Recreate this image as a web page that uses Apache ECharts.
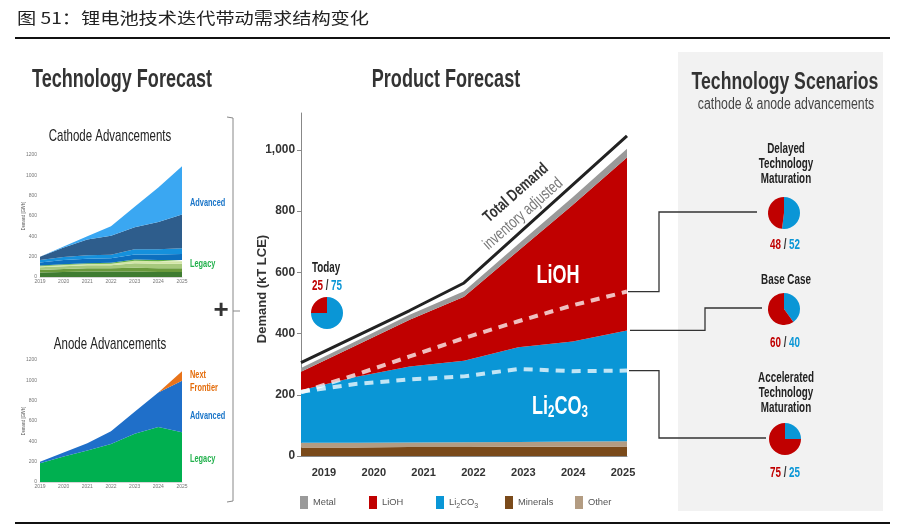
<!DOCTYPE html>
<html><head><meta charset="utf-8">
<script src="https://cdn.jsdelivr.net/npm/echarts@6/dist/echarts.min.js"></script>
<style>html,body{margin:0;padding:0;background:#fff}#c{width:897px;height:528px}</style>
</head><body><div id="c"></div>
<script>
// ---------------- DATA ----------------
const years = ['2019', '2020', '2021', '2022', '2023', '2024', '2025'];
const yearValues = [2019, 2020, 2021, 2022, 2023, 2024, 2025];
// Product forecast (kT LCE), stacked bottom -> top
const minerals = [28, 28, 29, 29, 30, 30, 31];
const other = [15, 15, 15, 16, 16, 17, 17];
const li2co3 = [172, 215, 248, 266, 309, 327, 362];
const lioh = [60, 102, 153, 209, 315, 446, 565];
const metal = [12, 14, 16, 18, 22, 25, 28];
const totalDemand = [305, 390, 475, 565, 725, 885, 1045];
const delayedSplit = [208, 265, 325, 385, 440, 492, 537];
const acceleratedSplit = [210, 235, 250, 260, 284, 277, 279];
const mainYTicks = [0, 200, 400, 600, 800, 1000];

// Cathode advancements (GWh), stacked bottom -> top
const cathodeL1 = [45, 50, 55, 55, 55, 50, 50];
const cathodeL2 = [25, 28, 30, 30, 35, 35, 35];
const cathodeL3 = [25, 28, 30, 30, 45, 45, 45];
const cathodeL4 = [10, 12, 12, 15, 25, 25, 25];
const cathodeL5 = [8, 8, 8, 10, 12, 12, 12];
const cathodeA1 = [30, 40, 45, 45, 50, 55, 60];
const cathodeA2 = [25, 30, 35, 35, 50, 50, 55];
const cathodeA3 = [32, 94, 155, 185, 218, 268, 333];
const cathodeA4 = [0, 10, 30, 95, 200, 340, 475];
// Anode advancements (GWh)
const anodeLegacy = [185, 250, 310, 375, 475, 540, 490];
const anodeAdvanced = [15, 40, 70, 125, 215, 340, 505];
const anodeNext = [0, 0, 0, 0, 0, 0, 95];

// Pies: LiOH / Li2CO3 split
const todayLiOH = 25, todayLi2CO3 = 75;
const scenarioNames = ['Delayed\nTechnology\nMaturation', 'Base Case', 'Accelerated\nTechnology\nMaturation'];
const scenarioLiOH = [48, 60, 75];
const scenarioLi2CO3 = [52, 40, 25];

// ---------------- STYLE ----------------
const RED = '#c00000', BLUE = '#0a96d6', GRAY = '#9a9a9a', BROWN = '#7a4a1a', TAN = '#b39c82';
const ctx = document.createElement('canvas').getContext('2d');
function measure(f) { ctx.font = 'bold 20px ' + f; return ctx.measureText('Technology Forecast 2019').width; }
const HAS_NARROW = Math.abs(measure('"Liberation Sans Narrow", monospace') - measure('monospace')) > 0.5;
const FN = HAS_NARROW ? '"Liberation Sans Narrow", "Liberation Sans", Arial, sans-serif' : '"Liberation Sans", Arial, sans-serif';
const SX = HAS_NARROW ? 1 : 0.82;
const AX = HAS_NARROW ? 1 : 0.85;

function txt(text, x, y, o = {}) {
  return {
    type: 'text', x, y, z: 20, silent: true,
    rotation: o.rot || 0,
    scaleX: o.sxAbs != null ? o.sxAbs : (o.sx || 1) * SX,
    scaleY: o.sy != null ? o.sy : 1.15,
    style: {
      text, fill: o.color || '#222', fontSize: o.size || 12,
      fontWeight: o.bold ? 'bold' : 'normal', fontFamily: o.fam || FN,
      align: o.align || 'center', verticalAlign: 'middle',
      lineHeight: o.lh, rich: o.rich
    }
  };
}
function tok(color, size, bold, extra) {
  return Object.assign({ fill: color, color: color, fontSize: size, fontWeight: bold ? 'bold' : 'normal', fontFamily: FN }, extra || {});
}

function area(name, data, color, stack, xi, yi) {
  return {
    name, type: 'line', stack, xAxisIndex: xi, yAxisIndex: yi, data: data,
    symbol: 'none', silent: true, lineStyle: { width: 0, color }, itemStyle: { color },
    areaStyle: { color, opacity: 1 }, z: 2
  };
}
function pie(center, liohV, li2co3V) {
  return {
    type: 'pie', center, radius: 16, startAngle: 90, clockwise: true, silent: true,
    label: { show: false }, labelLine: { show: false }, z: 5,
    itemStyle: { borderWidth: 0 },
    data: [
      { name: 'Li2CO3 share', value: li2co3V, itemStyle: { color: BLUE } },
      { name: 'LiOH share', value: liohV, itemStyle: { color: RED } }
    ]
  };
}

const smallX = (gi) => ({
  type: 'category', gridIndex: gi, data: years, boundaryGap: false,
  axisLine: { show: true, lineStyle: { color: '#bbb', width: 0.6 } }, axisTick: { show: false }, splitLine: { show: false },
  axisLabel: { fontSize: 5, color: '#777', margin: 2, interval: 0, fontFamily: FN }
});
const smallY = (gi) => ({
  type: 'value', gridIndex: gi, min: 0, max: 1200, interval: 200,
  axisLine: { show: false }, axisTick: { show: false }, splitLine: { show: false },
  axisLabel: { fontSize: 5, color: '#777', margin: 3, fontFamily: FN, formatter: v => String(v) }
});

const legendItems = [
  { name: 'Metal', left: 300 }, { name: 'LiOH', left: 369 }, { name: 'Li2CO3', left: 436 },
  { name: 'Minerals', left: 505 }, { name: 'Other', left: 575 }
];

const chart = echarts.init(document.getElementById('c'), null, { renderer: 'canvas' });
const option = {
  animation: false,
  backgroundColor: '#fff',
  grid: [
    { left: 301, top: 113, width: 326, height: 343 },
    { left: 40, top: 155, width: 142, height: 122 },
    { left: 40, top: 360, width: 142, height: 122 }
  ],
  xAxis: [
    { type: 'category', gridIndex: 0, data: years, boundaryGap: false, show: false },
    {
      type: 'value', gridIndex: 0, min: 2018.54, max: 2025.08, position: 'bottom',
      axisLine: { show: true, onZero: false, lineStyle: { color: '#888', width: 1 } }, axisTick: { show: false }, splitLine: { show: false },
      axisLabel: { customValues: yearValues, formatter: v => String(v), fontSize: 13 * AX, fontWeight: 'bold', color: '#333', margin: 11, fontFamily: FN }
    },
    smallX(1), smallX(2)
  ],
  yAxis: [
    {
      type: 'value', gridIndex: 0, min: 0, max: 1120,
      axisLine: { show: true, lineStyle: { color: '#888', width: 1 } },
      axisTick: { show: true, length: 4, customValues: mainYTicks, lineStyle: { color: '#888' } },
      splitLine: { show: false },
      axisLabel: { customValues: mainYTicks, fontSize: 14 * AX, fontWeight: 'bold', color: '#333', margin: 6, fontFamily: FN }
    },
    smallY(1), smallY(2)
  ],
  legend: legendItems.map(it => ({
    data: [it.name], left: it.left, top: 496, icon: 'rect', itemWidth: 8, itemHeight: 13, padding: 0,
    selectedMode: false,
    formatter: n => n === 'Li2CO3' ? '{n|Li}{s|2}{n|CO}{s|3}' : n,
    textStyle: {
      fontSize: 11 * AX, color: '#555', fontFamily: FN,
      rich: {
        n: { fontSize: 11 * AX, color: '#555', fontFamily: FN, lineHeight: 14, verticalAlign: 'middle' },
        s: { fontSize: 7, color: '#555', fontFamily: FN, lineHeight: 6, verticalAlign: 'bottom' }
      }
    }
  })),
  series: [
    area('Minerals', minerals, BROWN, 'm', 0, 0),
    area('Other', other, TAN, 'm', 0, 0),
    area('Li2CO3', li2co3, BLUE, 'm', 0, 0),
    area('LiOH', lioh, RED, 'm', 0, 0),
    area('Metal', metal, GRAY, 'm', 0, 0),
    { name: 'Total Demand', type: 'line', xAxisIndex: 0, yAxisIndex: 0, data: totalDemand, symbol: 'none', silent: true,
      lineStyle: { color: '#222', width: 3 }, z: 4 },
    { name: 'Delayed split', type: 'line', xAxisIndex: 0, yAxisIndex: 0, data: delayedSplit, symbol: 'none', silent: true,
      lineStyle: { color: 'rgba(255,255,255,0.75)', width: 4, type: [9, 7], cap: 'butt' }, z: 4 },
    { name: 'Accelerated split', type: 'line', xAxisIndex: 0, yAxisIndex: 0, data: acceleratedSplit, symbol: 'none', silent: true,
      lineStyle: { color: 'rgba(255,255,255,0.75)', width: 4, type: [9, 7], cap: 'butt' }, z: 4 },
    area('Cathode L1', cathodeL1, '#3f7c31', 'c', 2, 1),
    area('Cathode L2', cathodeL2, '#6a9a3c', 'c', 2, 1),
    area('Cathode L3', cathodeL3, '#a7c97d', 'c', 2, 1),
    area('Cathode L4', cathodeL4, '#d2e6a6', 'c', 2, 1),
    area('Cathode L5', cathodeL5, '#5fae45', 'c', 2, 1),
    area('Cathode A1', cathodeA1, '#0d6fbf', 'c', 2, 1),
    area('Cathode A2', cathodeA2, '#1590dc', 'c', 2, 1),
    area('Cathode A3', cathodeA3, '#2e5d8c', 'c', 2, 1),
    area('Cathode A4', cathodeA4, '#3aa7f2', 'c', 2, 1),
    area('Anode Legacy', anodeLegacy, '#00b050', 'a', 3, 2),
    area('Anode Advanced', anodeAdvanced, '#1f6fc9', 'a', 3, 2),
    area('Anode Next', anodeNext, '#e8731a', 'a', 3, 2),
    pie([327, 313], todayLiOH, todayLi2CO3),
    pie([784, 213], scenarioLiOH[0], scenarioLi2CO3[0]),
    pie([784, 309], scenarioLiOH[1], scenarioLi2CO3[1]),
    pie([785, 439], scenarioLiOH[2], scenarioLi2CO3[2])
  ]
};
chart.setOption(option);

// ---------------- ANNOTATIONS ----------------
const last = years.length - 1;
const toPx = v => chart.convertToPixel({ xAxisIndex: 0, yAxisIndex: 0 }, [last, v]);
const blueTop = minerals[last] + other[last] + li2co3[last];
const pD = toPx(delayedSplit[last]), pB = toPx(blueTop), pA = toPx(acceleratedSplit[last]);
const LINE = { stroke: '#333', lineWidth: 1.3, fill: null };
const splitRich = {
  r: tok(RED, 12, true), k: tok('#333', 12, true), b: tok(BLUE, 12, true)
};
const splitText = (a, b) => `{r|${a}}{k| / }{b|${b}}`;
const subRichBig = {
  n: tok('#fff', 22, true, { lineHeight: 24, verticalAlign: 'middle' }),
  s: tok('#fff', 14, true, { lineHeight: 12, verticalAlign: 'bottom' })
};

const elements = [
  { type: 'rect', shape: { x: 678, y: 52, width: 205, height: 459 }, style: { fill: '#f2f2f2' }, z: 0, silent: true },
  { type: 'line', shape: { x1: 15, y1: 38, x2: 890, y2: 38 }, style: { stroke: '#111', lineWidth: 2 }, z: 10, silent: true },
  { type: 'line', shape: { x1: 15, y1: 523, x2: 890, y2: 523 }, style: { stroke: '#111', lineWidth: 2 }, z: 10, silent: true },
  txt('图 51：锂电池技术迭代带动需求结构变化', 17, 18, { fam: '"Noto Sans CJK SC", sans-serif', size: 16, color: '#222', align: 'left', sxAbs: 1.2, sy: 1 }),
  // section titles
  txt('Technology Forecast', 122, 80, { size: 22, bold: true, color: '#333' }),
  txt('Product Forecast', 446, 80, { size: 22, bold: true, color: '#333' }),
  txt('Technology Scenarios', 785, 82, { size: 21.5, bold: true, color: '#333' }),
  txt('cathode & anode advancements', 786, 104, { size: 15, color: '#444' }),
  // left small charts
  txt('Cathode Advancements', 110, 137, { size: 14, color: '#222' }),
  txt('Anode Advancements', 110, 345, { size: 14, color: '#222' }),
  txt('Demand [GWh]', 24, 216, { size: 5, color: '#555', rot: Math.PI / 2, sy: 1 }),
  txt('Demand [GWh]', 24, 421, { size: 5, color: '#555', rot: Math.PI / 2, sy: 1 }),
  txt('Advanced', 190, 203, { size: 9, bold: true, color: '#1a75c8', align: 'left', sy: 1.3 }),
  txt('Legacy', 190, 264, { size: 9, bold: true, color: '#23b14d', align: 'left', sy: 1.3 }),
  txt('Next\nFrontier', 190, 381, { size: 9, bold: true, color: '#e46c0a', align: 'left', sy: 1.3, lh: 10 }),
  txt('Advanced', 190, 416, { size: 9, bold: true, color: '#1a75c8', align: 'left', sy: 1.3 }),
  txt('Legacy', 190, 459, { size: 9, bold: true, color: '#23b14d', align: 'left', sy: 1.3 }),
  // bracket and plus
  { type: 'polyline', shape: { points: [[227, 117], [233, 118], [233, 501], [227, 502]] }, style: { stroke: '#888', lineWidth: 1, fill: null }, z: 10, silent: true },
  { type: 'line', shape: { x1: 233, y1: 311, x2: 240, y2: 311 }, style: { stroke: '#888', lineWidth: 1 }, z: 10, silent: true },
  txt('+', 221, 311, { size: 26, bold: true, color: '#333', fam: '"Liberation Sans", sans-serif', sxAbs: 1, sy: 1 }),
  // main chart annotations
  txt('Demand (kT LCE)', 262, 289, { size: 13, bold: true, color: '#333', rot: Math.PI / 2, sx: 1.22, sy: 1 }),
  txt('Total Demand', 516, 193, { size: 15, bold: true, color: '#333', rot: 0.72, sy: 1.1 }),
  txt('inventory adjusted', 523, 214, { size: 15, color: '#777', rot: 0.72, sy: 1.1 }),
  txt('LiOH', 558, 276, { size: 22, bold: true, color: '#fff', sy: 1.15 }),
  txt('{n|Li}{s|2}{n|CO}{s|3}', 560, 407, { size: 22, bold: true, color: '#fff', sy: 1.15, rich: subRichBig }),
  txt('Today', 326, 268, { size: 12, bold: true, color: '#222' }),
  txt(splitText(todayLiOH, todayLi2CO3), 327, 286, { size: 12, bold: true, rich: splitRich }),
  // scenarios
  txt(scenarioNames[0], 786, 164, { size: 12, bold: true, color: '#222', lh: 13 }),
  txt(splitText(scenarioLiOH[0], scenarioLi2CO3[0]), 785, 245, { size: 12, bold: true, rich: splitRich }),
  txt(scenarioNames[1], 786, 280, { size: 12, bold: true, color: '#222' }),
  txt(splitText(scenarioLiOH[1], scenarioLi2CO3[1]), 785, 343, { size: 12, bold: true, rich: splitRich }),
  txt(scenarioNames[2], 786, 393, { size: 12, bold: true, color: '#222', lh: 13 }),
  txt(splitText(scenarioLiOH[2], scenarioLi2CO3[2]), 785, 473, { size: 12, bold: true, rich: splitRich }),
  // connectors
  { type: 'polyline', shape: { points: [[pD[0] + 1, pD[1]], [659, pD[1]], [659, 212], [757, 212]] }, style: LINE, z: 10, silent: true },
  { type: 'polyline', shape: { points: [[pB[0] + 3, pB[1]], [705, pB[1]], [705, 308], [762, 308]] }, style: LINE, z: 10, silent: true },
  { type: 'polyline', shape: { points: [[pA[0] + 2, pA[1]], [659, pA[1]], [659, 438], [766, 438]] }, style: LINE, z: 10, silent: true }
];
chart.setOption({ graphic: { elements } });
</script>
</body></html>
